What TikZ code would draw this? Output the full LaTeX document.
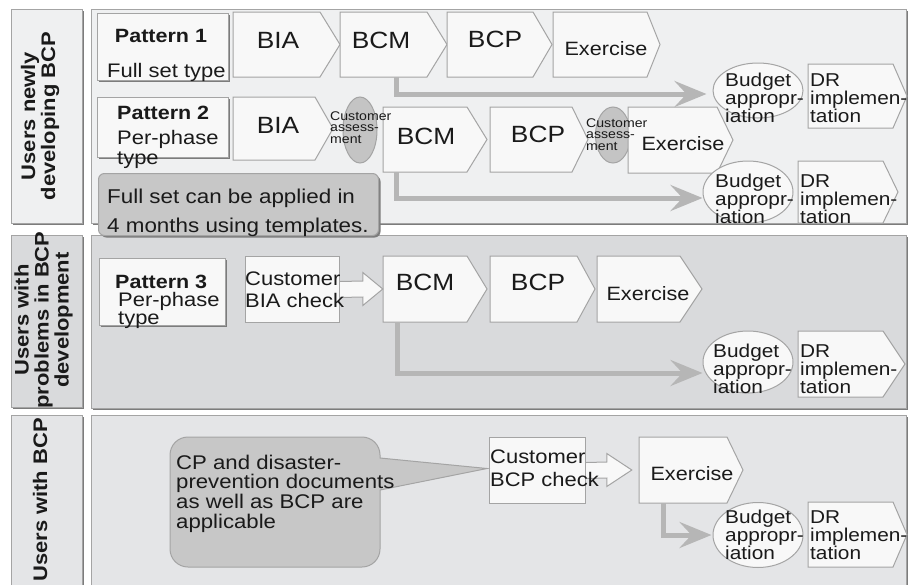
\documentclass[tikz,border=0pt]{standalone}
\usepackage{fontspec}
\setmainfont{Liberation Sans}[FakeStretch=1.12]
\usetikzlibrary{arrows.meta,calc,shadows,shapes.geometric}
\definecolor{pnlA}{HTML}{EFF0F1}
\definecolor{pnlB}{HTML}{D9DADC}
\definecolor{pnlC}{HTML}{E4E5E7}
\definecolor{edge}{HTML}{A4A4A4}
\definecolor{shad}{HTML}{7C7C7C}
\definecolor{boxf}{HTML}{F8F8F8}
\definecolor{ovalf}{HTML}{C4C4C4}
\definecolor{notef}{HTML}{C7C7C7}
\definecolor{arr}{HTML}{B6B6B6}
\definecolor{ink}{HTML}{1A1A1A}
\newcommand\fsz[2]{\fontsize{#1}{#2}\selectfont}
\newcommand\pent[6]{%
  \path[pentsty] (#2,#3) -- (#4,#3) -- (#5,{((#3)+(#6))/2}) -- (#4,#6) -- (#2,#6) -- cycle;
  \node[anchorbox, minimum width={(#4)-(#2)}, minimum height={(#6)-(#3)}] (#1) at ({((#2)+(#4))/2},{((#3)+(#6))/2}) {};}
\newcommand\three[8]{%
  \node[txt,font=#5,anchor=base west] (#1a) at (#2,#3) {#6};
  \node[txt,font=#5,anchor=base west] (#1b) at (#2,{(#3)+(#4)}) {#7};
  \node[txt,font=#5,anchor=base west] (#1c) at (#2,{(#3)+2*(#4)}) {#8};}
\begin{document}
\begin{tikzpicture}[x=1pt,y=-1pt,
  panel/.style={rectangle, anchor=north west, draw=edge, line width=0.8pt, inner sep=0pt,
     drop shadow={shadow xshift=2pt, shadow yshift=-2pt, fill=shad, opacity=1}},
  pbox/.style={rectangle, anchor=north west, fill=boxf, draw=edge, line width=0.8pt, inner sep=0pt,
     drop shadow={shadow xshift=2pt, shadow yshift=-2pt, fill=shad, opacity=1}},
  plainbox/.style={rectangle, anchor=north west, fill=boxf, draw=edge, line width=1pt, inner sep=0pt},
  pentsty/.style={fill=boxf, draw=edge, line width=1pt},
  anchorbox/.style={rectangle, inner sep=0pt, draw=none},
  ovalsty/.style={ellipse, fill=ovalf, draw=edge, line width=1pt, inner sep=0pt},
  budsty/.style={ellipse, fill=boxf, draw=edge, line width=1pt, inner sep=0pt},
  txt/.style={inner sep=0pt, text=ink},
  labtxt/.style={inner sep=0pt, text=ink, rotate=90, align=center, font=\bfseries\fsz{19.6}{20}},
  garrow/.style={draw=arr, line width=5pt, -{Stealth[length=32pt,width=26pt,inset=12pt]}},
  blockarr/.style={fill=boxf, draw=edge, line width=1pt},
  notesty/.style={rectangle, anchor=north west, rounded corners=6pt, fill=notef, draw=edge, line width=1pt, inner sep=0pt,
     drop shadow={shadow xshift=2pt, shadow yshift=-2pt, fill=shad, opacity=1}},
  callsty/.style={fill=notef, draw=edge, line width=1pt},
  big/.style={font=\fsz{23.5}{24}},
  mid/.style={font=\fsz{19.6}{20}}
]
\useasboundingbox (0,0) rectangle (908,584);
\fill[white] (0,0) rectangle (908,584);

% ---------- panels ----------
\node[panel, fill=pnlA, minimum width=71pt, minimum height=214pt] (lab1) at (11,9) {};
\node[panel, fill=pnlA, minimum width=815pt, minimum height=214pt] (pan1) at (91,9) {};
\node[panel, fill=pnlB, minimum width=71pt, minimum height=172pt] (lab2) at (11,235) {};
\node[panel, fill=pnlB, minimum width=815pt, minimum height=173pt] (pan2) at (91,235) {};
\node[panel, fill=pnlC, minimum width=71pt, minimum height=180pt] (lab3) at (11,415) {};
\node[panel, fill=pnlC, minimum width=815pt, minimum height=180pt] (pan3) at (91,415) {};

\node[labtxt] (lab1t) at (40,116) {Users newly\\developing BCP};
\node[labtxt] (lab2t) at (43.5,320) {Users with\\problems in BCP\\development};
\node[labtxt] (lab3t) at (40,500) {Users with BCP};

% ---------- pattern boxes ----------
\node[pbox, minimum width=131pt, minimum height=67pt] (pat1) at (97,13) {};
\node[pbox, minimum width=131pt, minimum height=60pt] (pat2) at (97,97) {};
\node[pbox, minimum width=126pt, minimum height=67pt] (pat3) at (99,258) {};
\node[txt, font=\bfseries\fsz{19.2}{20}, anchor=base] (pat1a) at (161,42) {Pattern 1};
\node[txt, mid, anchor=base west] (pat1b) at (107,77) {Full set type};
\node[txt, font=\bfseries\fsz{19.2}{20}, anchor=base west] (pat2a) at (117,119) {Pattern 2};
\node[txt, mid, anchor=base west] (pat2b) at (117,144) {Per-phase};
\node[txt, mid, anchor=base west] (pat2c) at (117,164) {type};
\node[txt, font=\bfseries\fsz{19.2}{20}, anchor=base west] (pat3a) at (115,288) {Pattern 3};
\node[txt, mid, anchor=base west] (pat3b) at (118,306) {Per-phase};
\node[txt, mid, anchor=base west] (pat3c) at (118,324) {type};

% ---------- note ----------
\node[notesty, minimum width=280pt, minimum height=62pt] (note) at (98,173) {};
\node[txt, font=\fsz{20}{20}, anchor=base west] (notea) at (107,203) {Full set can be applied in};
\node[txt, font=\fsz{20}{20}, anchor=base west] (noteb) at (107,232) {4 months using templates.};

% ---------- row 1 ----------
\pent{bia1}{233}{12}{320}{340}{77}
\pent{bcm1}{340}{12}{427}{447}{77}
\pent{bcp1}{447}{12}{533}{552}{77}
\pent{ex1}{553}{12}{647}{660}{77}
\node[txt, big, anchor=base] (bia1t) at (278,48) {BIA};
\node[txt, big, anchor=base] (bcm1t) at (381,48) {BCM};
\node[txt, big, anchor=base] (bcp1t) at (495,47) {BCP};
\node[txt, font=\fsz{19.3}{20}, anchor=base] (ex1t) at (606,55) {Exercise};

\pent{bia2}{233}{97}{315}{333}{160}
\node[ovalsty, minimum width=34pt, minimum height=66pt] (ca1) at (360,130) {};
\pent{bcm2}{383}{107}{467}{487}{172}
\pent{bcp2}{490}{107}{572}{588}{172}
\node[ovalsty, minimum width=35pt, minimum height=56pt] (ca2) at (613,135) {};
\pent{ex2}{628}{107}{717}{733}{173}
\node[txt, big, anchor=base] (bia2t) at (278,133) {BIA};
\node[txt, big, anchor=base] (bcm2t) at (426,144) {BCM};
\node[txt, big, anchor=base] (bcp2t) at (538,142) {BCP};
\node[txt, font=\fsz{19.3}{20}, anchor=base] (ex2t) at (683,150) {Exercise};
\three{ca1t}{330}{120}{11.5}{\fsz{12.6}{11}}{Customer}{assess-}{ment}
\three{ca2t}{586}{127}{11.5}{\fsz{12.6}{11}}{Customer}{assess-}{ment}

% ---------- row 2 ----------
\node[plainbox, minimum width=94pt, minimum height=66pt] (cbia) at (245,256) {};
\pent{bcm3}{383}{256}{467}{487}{322}
\pent{bcp3}{490}{256}{577}{595}{322}
\pent{ex3}{597}{256}{680}{702}{322}
\filldraw[blockarr] ($(cbia.east)+(0,-8)$) -- ($(bcm3.west)+(-20,-8)$) -- ($(bcm3.west)+(-20,-16.5)$)
   -- (bcm3.west) -- ($(bcm3.west)+(-20,16.5)$) -- ($(bcm3.west)+(-20,8)$) -- ($(cbia.east)+(0,8)$);
\node[txt, mid, anchor=base west] (cbiaa) at (245,285) {Customer};
\node[txt, mid, anchor=base west] (cbiab) at (245,307) {BIA check};
\node[txt, big, anchor=base] (bcm3t) at (425,290) {BCM};
\node[txt, big, anchor=base] (bcp3t) at (538,290) {BCP};
\node[txt, font=\fsz{19.3}{20}, anchor=base] (ex3t) at (648,300) {Exercise};

% ---------- row 3 ----------
\node[plainbox, minimum width=96pt, minimum height=66pt] (cbcp) at (489,437) {};
\pent{ex4}{639}{437}{727}{743}{503}
\coordinate (ptip) at ($(cbcp.west)+(-2,-2)$);
\draw[callsty] (170,500) [rounded corners=18pt] -- (170,437) -- (380,437) [sharp corners] -- (380,458)
   -- (ptip) -- (380,490) [rounded corners=18pt] -- (380,567) -- (170,567) -- cycle;
\node[txt, font=\fsz{19.8}{20}, anchor=base west] (cala) at (176,469) {CP and disaster-};
\node[txt, font=\fsz{19.8}{20}, anchor=base west] (calb) at (176,488) {prevention documents};
\node[txt, font=\fsz{19.8}{20}, anchor=base west] (calc) at (176,508) {as well as BCP are};
\node[txt, font=\fsz{19.8}{20}, anchor=base west] (cald) at (176,528) {applicable};
\filldraw[blockarr] ($(cbcp.east)+(0,-8)$) -- ($(ex4.west)+(-32,-8)$) -- ($(ex4.west)+(-32,-16.5)$)
   -- ($(ex4.west)+(-7,0)$) -- ($(ex4.west)+(-32,16.5)$) -- ($(ex4.west)+(-32,8)$) -- ($(cbcp.east)+(0,8)$);
\node[txt, mid, anchor=base west] (cbcpa) at (490,463) {Customer};
\node[txt, mid, anchor=base west] (cbcpb) at (490,486) {BCP check};
\node[txt, font=\fsz{19.3}{20}, anchor=base] (ex4t) at (692,480) {Exercise};

% ---------- budget / DR ----------
\node[budsty, minimum width=90pt, minimum height=55pt] (bud1) at (758,90.5) {};
\node[budsty, minimum width=90pt, minimum height=62pt] (bud2) at (748,192) {};
\node[budsty, minimum width=90pt, minimum height=62pt] (bud3) at (748,362) {};
\node[budsty, minimum width=90pt, minimum height=65pt] (bud4) at (758,535) {};
\pent{dr1}{808}{64}{893}{907}{128}
\pent{dr2}{798}{161}{883}{898}{223}
\pent{dr3}{798}{331}{883}{905}{397}
\pent{dr4}{808}{502}{893}{907}{567}
\three{bud1t}{725}{86}{18}{\fsz{18.6}{17}}{Budget}{appropr-}{iation}
\three{dr1t}{810}{86}{18}{\fsz{18.6}{17}}{DR}{implemen-}{tation}
\three{bud2t}{715}{187}{18}{\fsz{18.6}{17}}{Budget}{appropr-}{iation}
\three{dr2t}{800}{187}{18}{\fsz{18.6}{17}}{DR}{implemen-}{tation}
\three{bud3t}{713}{357}{18}{\fsz{18.6}{17}}{Budget}{appropr-}{iation}
\three{dr3t}{800}{357}{18}{\fsz{18.6}{17}}{DR}{implemen-}{tation}
\three{bud4t}{725}{523}{18}{\fsz{18.6}{17}}{Budget}{appropr-}{iation}
\three{dr4t}{810}{523}{18}{\fsz{18.6}{17}}{DR}{implemen-}{tation}

% ---------- gray arrows ----------
\draw[garrow] ([xshift=12.5pt]bcm1.south) |- ([xshift=-6pt,yshift=-3.5pt]bud1.west);
\draw[garrow] ([xshift=-29pt]bcm2.south) |- ([yshift=-6pt]bud2.west);
\draw[garrow] ([xshift=-28pt]bcm3.south) |- ([yshift=-11pt]bud3.west);
\draw[garrow] ([xshift=-19.5pt]ex4.south) |- ([xshift=-1pt]bud4.west);
\end{tikzpicture}
\end{document}
